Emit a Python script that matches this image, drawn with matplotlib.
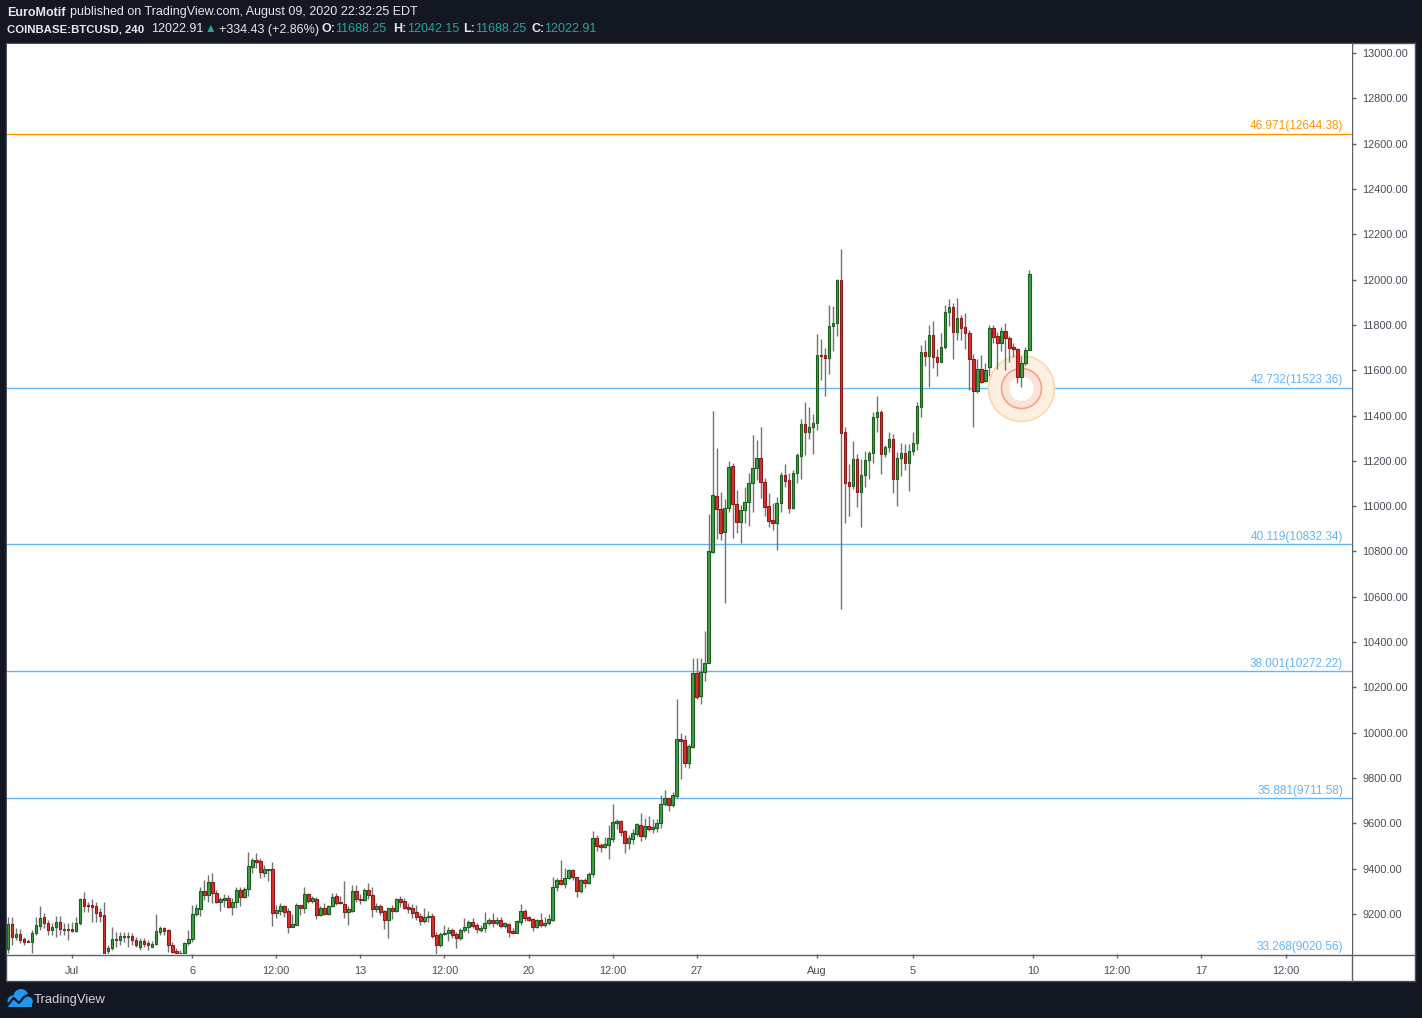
import matplotlib
matplotlib.use("Agg")
import matplotlib.pyplot as plt
from matplotlib.patches import Rectangle, Circle
import numpy as np

# ---------------- data (4h candles, COINBASE:BTCUSD) ----------------
candles_before_jul1 = 16          # first candle: Jun 28 08:00
candles_per_day = 6

opens = [
    9044, 9156, 9100, 9112, 9088, 9082, 9078, 9115, 9148, 9185,
    9159, 9129, 9141, 9163, 9128, 9134, 9134, 9126, 9159, 9265,
    9240, 9240, 9235, 9210, 9195, 9038, 9048, 9090, 9085, 9103,
    9097, 9103, 9085, 9056, 9081, 9073, 9056, 9066, 9122, 9137,
    9129, 9063, 9038, 9026, 9026, 9073, 9088, 9200, 9222, 9301,
    9284, 9340, 9291, 9254, 9262, 9269, 9232, 9251, 9306, 9277,
    9309, 9409, 9438, 9434, 9382, 9394, 9397, 9206, 9215, 9235,
    9213, 9144, 9152, 9240, 9228, 9288, 9259, 9266, 9196, 9225,
    9200, 9235, 9279, 9253, 9243, 9210, 9215, 9301, 9266, 9262,
    9306, 9284, 9222, 9235, 9213, 9174, 9225, 9213, 9265, 9257,
    9230, 9225, 9207, 9191, 9171, 9188, 9191, 9107, 9063, 9110,
    9115, 9129, 9112, 9096, 9129, 9141, 9163, 9152, 9129, 9137,
    9159, 9174, 9162, 9174, 9149, 9156, 9125, 9118, 9166, 9213,
    9185, 9177, 9144, 9174, 9152, 9159, 9174, 9318, 9350, 9332,
    9357, 9394, 9362, 9303, 9350, 9338, 9375, 9534, 9505, 9497,
    9504, 9531, 9603, 9610, 9566, 9512, 9529, 9553, 9593, 9546,
    9588, 9575, 9581, 9600, 9685, 9710, 9681, 9722, 9971, 9968,
    9868, 9938, 10262, 10164, 10267, 10306, 10799, 11045, 10987, 10887,
    10990, 11177, 11010, 10932, 10983, 11020, 11101, 11167, 11211, 11108,
    11001, 10939, 10924, 11012, 11138, 11115, 10990, 11145, 11223, 11363,
    11329, 11348, 11366, 11667, 11667, 11652, 11795, 11807, 11998, 11326,
    11105, 11090, 11208, 11064, 11138, 11204, 11233, 11392, 11414, 11229,
    11260, 11295, 11121, 11211, 11233, 11192, 11243, 11277, 11439, 11679,
    11664, 11755, 11657, 11638, 11701, 11855, 11877, 11770, 11829, 11789,
    11763, 11648, 11510, 11605, 11554, 11613, 11785, 11751, 11719, 11773,
    11741, 11701, 11692, 11572, 11630, 11688.25,
]
highs = [
    9185, 9185, 9137, 9132, 9100, 9088, 9129, 9188, 9235, 9203,
    9173, 9159, 9191, 9191, 9159, 9159, 9166, 9188, 9269, 9296,
    9254, 9265, 9254, 9225, 9254, 9063, 9144, 9122, 9122, 9122,
    9122, 9115, 9100, 9093, 9093, 9085, 9082, 9198, 9147, 9144,
    9132, 9078, 9048, 9041, 9078, 9129, 9240, 9244, 9321, 9350,
    9372, 9380, 9306, 9276, 9288, 9284, 9269, 9321, 9321, 9321,
    9472, 9446, 9468, 9446, 9416, 9400, 9431, 9240, 9247, 9240,
    9225, 9200, 9247, 9240, 9321, 9294, 9280, 9274, 9235, 9250,
    9240, 9291, 9291, 9280, 9346, 9235, 9328, 9328, 9288, 9313,
    9335, 9321, 9247, 9243, 9218, 9232, 9240, 9269, 9280, 9269,
    9250, 9243, 9240, 9203, 9225, 9213, 9203, 9122, 9122, 9151,
    9141, 9137, 9122, 9137, 9181, 9174, 9181, 9162, 9152, 9207,
    9181, 9206, 9185, 9188, 9166, 9162, 9137, 9174, 9244, 9222,
    9193, 9181, 9177, 9206, 9188, 9199, 9365, 9357, 9438, 9401,
    9397, 9399, 9365, 9353, 9357, 9384, 9566, 9549, 9515, 9538,
    9593, 9685, 9619, 9615, 9571, 9549, 9574, 9603, 9644, 9625,
    9633, 9618, 9618, 9725, 9747, 9710, 9740, 10149, 10000, 9990,
    9950, 10331, 10331, 10331, 10449, 10965, 11420, 11255, 11061, 11032,
    11199, 11192, 11071, 11005, 11083, 11145, 11314, 11292, 11348, 11123,
    11057, 11012, 11042, 11152, 11186, 11145, 11160, 11236, 11385, 11458,
    11439, 11407, 11760, 11738, 11700, 11888, 11885, 12003, 12135, 11348,
    11186, 11289, 11230, 11208, 11245, 11245, 11417, 11486, 11424, 11270,
    11329, 11318, 11240, 11280, 11274, 11274, 11329, 11461, 11711, 11733,
    11800, 11817, 11692, 11763, 11888, 11913, 11898, 11917, 11844, 11851,
    11777, 11672, 11650, 11667, 11630, 11800, 11800, 11770, 11792, 11807,
    11751, 11722, 11697, 11663, 11704, 12042.15,
]
lows = [
    9030, 9063, 9085, 9070, 9063, 9075, 9026, 9107, 9129, 9137,
    9107, 9107, 9100, 9107, 9107, 9085, 9122, 9122, 9151, 9210,
    9210, 9166, 9166, 9166, 9015, 9015, 9041, 9056, 9063, 9078,
    9056, 9063, 9056, 9041, 9056, 9041, 9056, 9063, 9107, 9107,
    9034, 9026, 9020, 9020, 9020, 9063, 9078, 9191, 9191, 9262,
    9254, 9247, 9247, 9215, 9232, 9225, 9196, 9225, 9235, 9269,
    9280, 9379, 9402, 9357, 9365, 9347, 9147, 9181, 9196, 9188,
    9115, 9141, 9152, 9196, 9203, 9250, 9247, 9178, 9191, 9196,
    9196, 9232, 9240, 9244, 9181, 9152, 9210, 9254, 9243, 9259,
    9265, 9188, 9210, 9196, 9134, 9096, 9178, 9210, 9232, 9221,
    9203, 9181, 9174, 9152, 9159, 9166, 9093, 9023, 9056, 9107,
    9082, 9093, 9051, 9085, 9122, 9118, 9137, 9118, 9122, 9122,
    9152, 9144, 9152, 9137, 9137, 9100, 9110, 9115, 9152, 9171,
    9169, 9125, 9140, 9144, 9144, 9152, 9171, 9302, 9328, 9316,
    9353, 9350, 9274, 9294, 9316, 9332, 9362, 9479, 9475, 9490,
    9443, 9519, 9574, 9544, 9471, 9487, 9507, 9546, 9522, 9530,
    9568, 9559, 9563, 9581, 9677, 9656, 9671, 9711, 9796, 9850,
    9846, 9931, 10147, 10125, 10230, 10306, 10795, 10854, 10851, 10571,
    10976, 10858, 10880, 10839, 10927, 10914, 10976, 11115, 11037, 10957,
    10907, 10895, 10806, 10976, 11083, 10971, 10987, 11104, 11120, 11226,
    11297, 11230, 11336, 11557, 11488, 11583, 11686, 11751, 10545, 10927,
    10957, 11074, 10998, 10909, 11086, 11120, 11192, 11329, 11140, 11218,
    11238, 11057, 11002, 11134, 11160, 11068, 11226, 11248, 11395, 11619,
    11527, 11611, 11574, 11638, 11692, 11797, 11648, 11733, 11733, 11692,
    11513, 11348, 11498, 11542, 11549, 11574, 11719, 11604, 11686, 11601,
    11638, 11660, 11545, 11527, 11623, 11688.25,
]
closes = [
    9156, 9100, 9112, 9085, 9078, 9078, 9115, 9151, 9181, 9159,
    9129, 9141, 9163, 9132, 9134, 9129, 9126, 9159, 9265, 9237,
    9235, 9232, 9206, 9191, 9023, 9048, 9088, 9085, 9103, 9097,
    9103, 9085, 9062, 9081, 9066, 9062, 9068, 9125, 9137, 9126,
    9063, 9034, 9026, 9029, 9073, 9090, 9200, 9225, 9301, 9284,
    9340, 9291, 9254, 9265, 9269, 9232, 9254, 9306, 9277, 9310,
    9412, 9438, 9431, 9384, 9397, 9397, 9206, 9218, 9235, 9210,
    9144, 9156, 9240, 9228, 9288, 9259, 9269, 9196, 9225, 9200,
    9235, 9273, 9250, 9247, 9210, 9220, 9301, 9265, 9262, 9306,
    9284, 9222, 9235, 9210, 9174, 9225, 9213, 9265, 9254, 9228,
    9222, 9206, 9188, 9171, 9185, 9191, 9104, 9063, 9112, 9118,
    9129, 9107, 9096, 9129, 9141, 9166, 9149, 9132, 9140, 9159,
    9174, 9162, 9174, 9149, 9159, 9122, 9118, 9169, 9213, 9184,
    9174, 9144, 9174, 9152, 9159, 9177, 9318, 9350, 9332, 9357,
    9394, 9362, 9303, 9350, 9338, 9375, 9534, 9502, 9497, 9507,
    9534, 9605, 9610, 9563, 9512, 9534, 9556, 9596, 9546, 9588,
    9575, 9584, 9600, 9685, 9710, 9681, 9725, 9971, 9965, 9868,
    9941, 10262, 10159, 10267, 10306, 10802, 11049, 10986, 10883, 10990,
    11171, 11008, 10932, 10983, 11017, 11101, 11167, 11211, 11108, 10998,
    10936, 10924, 11012, 11138, 11113, 10990, 11145, 11226, 11363, 11329,
    11348, 11366, 11667, 11664, 11652, 11795, 11807, 11998, 11324, 11104,
    11090, 11208, 11064, 11138, 11204, 11233, 11392, 11414, 11229, 11260,
    11295, 11118, 11211, 11233, 11192, 11243, 11277, 11442, 11679, 11664,
    11755, 11660, 11638, 11701, 11855, 11877, 11770, 11829, 11788, 11763,
    11648, 11510, 11605, 11549, 11601, 11785, 11748, 11719, 11773, 11741,
    11700, 11692, 11572, 11630, 11689, 12022.91,
]

level_ratios = ["46.971", "42.732", "40.119", "38.001", "35.881", "33.268"]
level_prices = [12644.38, 11523.36, 10832.34, 10272.22, 9711.58, 9020.56]
level_colors = ["#ff9800", "#64b5f6", "#64b5f6", "#64b5f6", "#64b5f6", "#64b5f6"]

xtick_days = [0, 5, 8.5, 12, 15.5, 19, 22.5, 26, 31, 35, 40, 43.5, 47, 50.5]
xtick_labels = ["Jul", "6", "12:00", "13", "12:00", "20", "12:00", "27",
                "Aug", "5", "10", "12:00", "17", "12:00"]
ytick_values = list(range(9200, 13001, 200))

highlight_day = 39.5
highlight_price = level_prices[1]

author = "EuroMotif"
published = "published on TradingView.com, August 09, 2020 22:32:25 EDT"
symbol_text = "COINBASE:BTCUSD, 240"
last_price = "12022.91"
change_text = "+334.43 (+2.86%)"
ohlc_labels = ["O:", "H:", "L:", "C:"]
ohlc_values = ["11688.25", "12042.15", "11688.25", "12022.91"]

# ---------------- styling ----------------
W, H = 1422, 1018
BG = "#131722"
AXIS_TXT = "#4a4e59"
AXIS_LINE = "#5d606b"
UP_FILL, UP_EDGE = "#43a047", "#1b5e20"
DN_FILL, DN_EDGE = "#d9312f", "#8e1a1a"
WICK = "#737373"
TEAL = "#26a69a"
WHITE_TXT = "#e6e8ee"
FONT = ["Liberation Sans", "DejaVu Sans"]

plt.rcParams["font.family"] = FONT

fig = plt.figure(figsize=(W / 100, H / 100), dpi=100, facecolor=BG)

# overlay in pixel coordinates (panel, header, logo)
ov = fig.add_axes([0, 0, 1, 1], zorder=0)
ov.set_xlim(0, W)
ov.set_ylim(H, 0)
ov.axis("off")
ov.add_patch(Rectangle((6, 43), 1409, 938, facecolor="white", edgecolor="#4a4e59", lw=1))
ov.plot([7, 1415], [954.5, 954.5], color=AXIS_LINE, lw=1)
ov.plot([1351.5, 1351.5], [43, 981], color=AXIS_LINE, lw=1)

# main price axes
L_, R_, T_, B_ = 7, 1351.5, 44, 954
ax = fig.add_axes([L_ / W, 1 - B_ / H, (R_ - L_) / W, (B_ - T_) / H], zorder=1)
ax.set_facecolor("white")
for s in ax.spines.values():
    s.set_visible(False)

px_per_day = 24.03
x_jul1 = 72
ax.set_xlim((L_ - x_jul1) / px_per_day, (R_ - x_jul1) / px_per_day)
px_per_usd = 861 / 3800.0
ax.set_ylim(9200 - (B_ - 914) / px_per_usd, 13000 + (53 - T_) / px_per_usd)

o = np.array(opens, float)
h = np.array(highs, float)
l = np.array(lows, float)
c = np.array(closes, float)
t = (np.arange(len(o)) - candles_before_jul1) / candles_per_day
up = c >= o

# level lines
for ratio, price, col in zip(level_ratios, level_prices, level_colors):
    ax.axhline(price, color=col, lw=1, zorder=1)
    ax.annotate(f"{ratio}({price:.2f})", xy=(1, price),
                xycoords=("axes fraction", "data"), xytext=(-6, 1.0),
                textcoords="offset points", ha="right", va="bottom",
                color=col, fontsize=8.5, zorder=6, annotation_clip=False)

# highlight circle
ax.plot([highlight_day], [highlight_price], marker="o", ms=47.5, mfc="#fdf0e1",
        mec="#fcd9a8", mew=1.2, zorder=2, clip_on=False)
ax.plot([highlight_day], [highlight_price], marker="o", ms=28.8, mfc="#fae3d9",
        mec="#f2a484", mew=1.2, zorder=2)
ax.plot([highlight_day], [highlight_price], marker="o", ms=17.6, mfc="white",
        mec="white", mew=0, zorder=2)

# candles
ax.vlines(t, l, h, color=WICK, lw=1, zorder=3)
body_w = 0.115
ax.bar(t[up], np.maximum(c[up] - o[up], 0.5), bottom=o[up], width=body_w,
       color=UP_FILL, edgecolor=UP_EDGE, linewidth=0.8, zorder=4)
ax.bar(t[~up], np.maximum(o[~up] - c[~up], 0.5), bottom=c[~up], width=body_w,
       color=DN_FILL, edgecolor=DN_EDGE, linewidth=0.8, zorder=4)

# ticks
ax.yaxis.tick_right()
ax.set_yticks(ytick_values)
ax.set_yticklabels([f"{v:.2f}" for v in ytick_values])
ax.set_xticks(xtick_days)
ax.set_xticklabels(xtick_labels)
ax.tick_params(axis="y", direction="out", length=3, width=1, color=AXIS_LINE,
               labelcolor=AXIS_TXT, labelsize=7.9, pad=5)
ax.tick_params(axis="x", direction="out", length=3, width=1, color=AXIS_LINE,
               labelcolor=AXIS_TXT, labelsize=7.9, pad=5.5)


# ---------------- header ----------------
def htext(x, y, s, col, wt="normal", size=9.0):
    fig.text(x / W, 1 - y / H, s, color=col, fontweight=wt, fontsize=size,
             ha="left", va="center", family=FONT)


htext(7, 12.5, author, WHITE_TXT, "bold")
htext(70, 12.5, published, WHITE_TXT)

htext(7, 29.5, symbol_text, WHITE_TXT, "bold", 8.2)
htext(151, 29.5, last_price, WHITE_TXT)
htext(205, 29.5, "▲", TEAL, size=8.5)
htext(219, 29.5, change_text, WHITE_TXT)
label_x = [322, 393, 463, 532]
value_x = [335, 407, 475, 544]
for lx, vx, lab, val in zip(label_x, value_x, ohlc_labels, ohlc_values):
    htext(lx, 29.5, lab, WHITE_TXT, "bold")
    htext(vx, 29.5, val, TEAL)

# ---------------- logo ----------------
ov.add_patch(Circle((13, 1001), 5.5, color="#2196f3", lw=0))
ov.add_patch(Circle((21, 996.5), 7.5, color="#2196f3", lw=0))
ov.add_patch(Circle((28, 1001.5), 4.8, color="#2196f3", lw=0))
ov.add_patch(Rectangle((8, 1000), 24, 6.5, color="#2196f3", lw=0))
ov.plot([7, 13.5, 19, 24, 32], [1006, 998, 1003, 997, 993], color=BG, lw=1.6,
        solid_capstyle="round")
fig.text(34 / W, 1 - 999.5 / H, "TradingView", color="#d1d4dc", fontsize=9.4,
         ha="left", va="center", family=FONT)

fig.savefig("out.png", dpi=100, facecolor=BG)
